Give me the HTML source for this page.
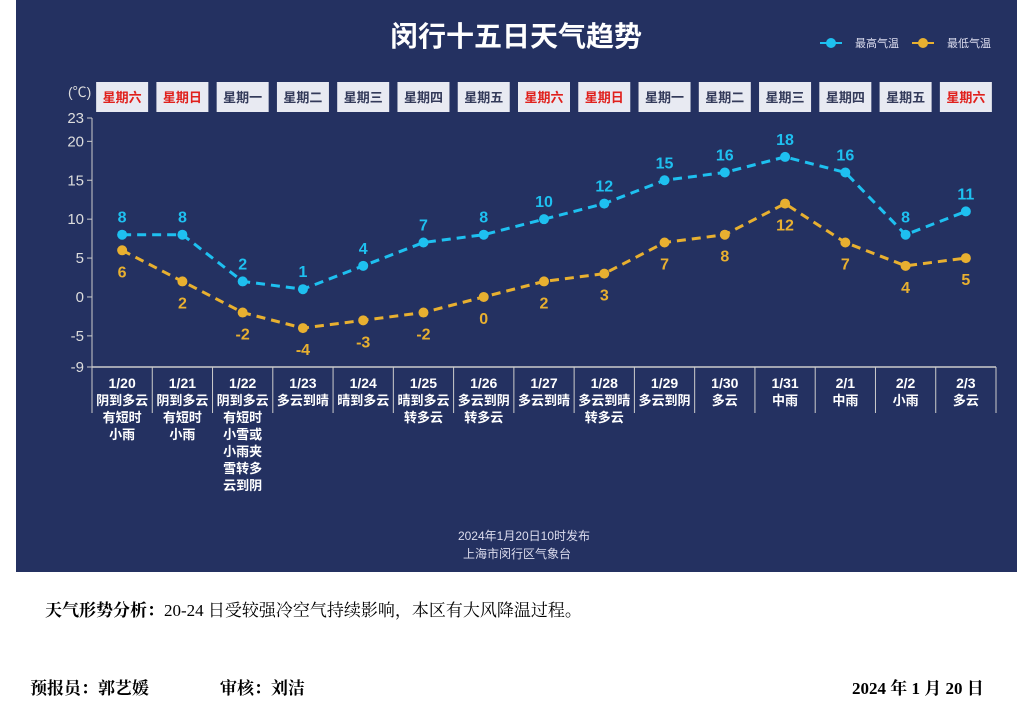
<!DOCTYPE html>
<html><head><meta charset="utf-8"><style>
body{margin:0;width:1031px;height:706px;background:#fff;overflow:hidden;font-family:"Liberation Sans","Noto Sans CJK SC",sans-serif;}
#panel{position:absolute;left:16px;top:0;width:1001px;height:572px;background:#243161;}
.foot{position:absolute;font-family:"Liberation Serif","Noto Serif CJK SC",serif;font-size:17px;color:#000;}
</style></head><body>
<div id="panel"></div>
<svg id="chart" width="1031" height="572" style="position:absolute;left:0;top:0"></svg>
<div class="foot" style="left:45px;top:596px"><b>天气形势分析：</b>20-24 日受较强冷空气持续影响，本区有大风降温过程。</div>
<div class="foot" style="left:30px;top:674px;font-weight:bold">预报员：郭艺媛</div>
<div class="foot" style="left:220px;top:674px;font-weight:bold">审核：刘洁</div>
<div class="foot" style="left:852px;top:674px;font-weight:bold">2024 年 1 月 20 日</div>
<script>
const dates=["1/20","1/21","1/22","1/23","1/24","1/25","1/26","1/27","1/28","1/29","1/30","1/31","2/1","2/2","2/3"];
const weekdays=["星期六","星期日","星期一","星期二","星期三","星期四","星期五","星期六","星期日","星期一","星期二","星期三","星期四","星期五","星期六"];
const weather=[["阴到多云","有短时","小雨"],["阴到多云","有短时","小雨"],["阴到多云","有短时","小雪或","小雨夹","雪转多","云到阴"],["多云到晴"],["晴到多云"],["晴到多云","转多云"],["多云到阴","转多云"],["多云到晴"],["多云到晴","转多云"],["多云到阴"],["多云"],["中雨"],["中雨"],["小雨"],["多云"]];
const highs=[8,8,2,1,4,7,8,10,12,15,16,18,16,8,11];
const lows=[6,2,-2,-4,-3,-2,0,2,3,7,8,12,7,4,5];
const yTicks=[23,20,15,10,5,0,-5,-9];
const NS="http://www.w3.org/2000/svg";
const svg=document.getElementById('chart');
const X0=92,X1=996,Y0=118,Y1=367,YMAX=23,YMIN=-9;
const bw=(X1-X0)/dates.length;
const xc=i=>X0+bw*(i+0.5);
const y=v=>Y0+(YMAX-v)/(YMAX-YMIN)*(Y1-Y0);
function el(t,a,txt){const e=document.createElementNS(NS,t);for(const k in a)e.setAttribute(k,a[k]);if(txt!=null)e.textContent=txt;svg.appendChild(e);return e;}
let e;
e=el('text',{x:516,y:46,'text-anchor':'middle','font-size':28,'font-weight':'bold',fill:'#fff'},'闵行十五日天气趋势');

[[820,'#1ec0f0','最高气温'],[912,'#e8b030','最低气温']].forEach((l,i)=>{
 e=el('line',{x1:l[0],y1:43,x2:l[0]+22,y2:43,stroke:l[1],'stroke-width':2});
 
 e=el('circle',{cx:l[0]+11,cy:43,r:5,fill:l[1]});
 
 e=el('text',{x:l[0]+35,y:47,'font-size':11,fill:'#dde'},l[2]);
 
});
e=el('text',{x:68,y:97,'font-size':14,fill:'#ddd'},'(℃)');

e=el('line',{x1:X0,y1:Y0,x2:X0,y2:Y1,stroke:'#ccc','stroke-width':1});

yTicks.forEach(t=>{
 e=el('line',{x1:X0-5,y1:y(t),x2:X0,y2:y(t),stroke:'#ccc'});
 
 e=el('text',{x:X0-8,y:y(t)+5,'text-anchor':'end','font-size':15,fill:'#ddd'},t);
 
});
e=el('line',{x1:X0,y1:Y1,x2:X1,y2:Y1,stroke:'#ccc','stroke-width':1.5});

for(let i=0;i<=dates.length;i++){
 e=el('line',{x1:X0+bw*i,y1:Y1,x2:X0+bw*i,y2:413,stroke:'#ccc'});
 
}
dates.forEach((d,i)=>{
 const red=weekdays[i]==='星期六'||weekdays[i]==='星期日';
 e=el('rect',{x:xc(i)-26,y:82,width:52,height:30,fill:'#e8eaf2'});
 
 e=el('text',{x:xc(i),y:102,'text-anchor':'middle','font-size':13,'font-weight':'bold',fill:red?'#e0201c':'#333a5a'},weekdays[i]);
 
 e=el('text',{x:xc(i),y:388,'text-anchor':'middle','font-size':14,'font-weight':'bold',fill:'#fff'},d);
 
 weather[i].forEach((w,j)=>{
  e=el('text',{x:xc(i),y:405+j*17,'text-anchor':'middle','font-size':13,'font-weight':'bold',fill:'#fff'},w);
  
 });
});
function series(vals,color,name,above){
 e=el('polyline',{points:vals.map((v,i)=>xc(i)+','+y(v)).join(' '),fill:'none',stroke:color,'stroke-width':3,'stroke-dasharray':'9,6'});
 
 vals.forEach((v,i)=>{
  e=el('circle',{cx:xc(i),cy:y(v),r:5,fill:color});
  
  e=el('text',{x:xc(i),y:above?y(v)-12:y(v)+27,'text-anchor':'middle','font-size':16,'font-weight':'bold',fill:color},v);
  
 });
}
series(lows,'#e8b030','low-temp',false);
series(highs,'#1ec0f0','high-temp',true);
e=el('text',{x:524,y:540,'text-anchor':'middle','font-size':12,fill:'#dde'},'2024年1月20日10时发布');

e=el('text',{x:517,y:558,'text-anchor':'middle','font-size':12,fill:'#dde'},'上海市闵行区气象台');

</script>
</body></html>
